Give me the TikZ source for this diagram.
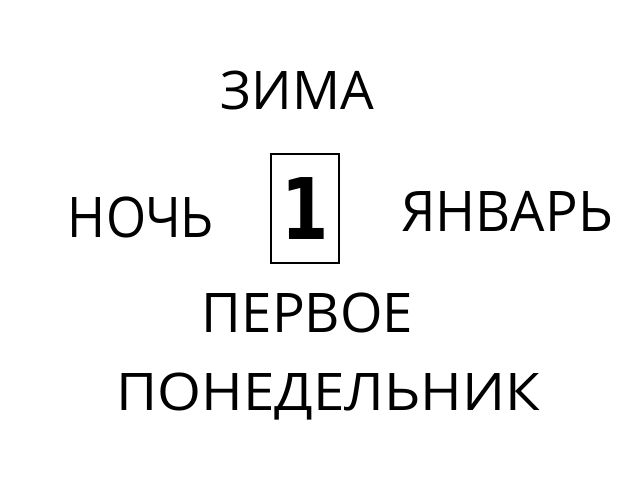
\documentclass[tikz,border=0pt]{standalone}
\usepackage{graphicx}
\usepackage{fontspec}
\setmainfont{Open Sans}
\newfontfamily\digitfont{DejaVu Sans}
\begin{document}
\begin{tikzpicture}[x=1pt,y=1pt,
    word/.style={anchor=base,inner sep=0pt,font=\fontsize{#1}{#1}\selectfont}]
      \useasboundingbox (0,0) rectangle (640,480);
      \node [word=53.2] (zima) at (297.5,370) {ЗИМА};
      \node [word=56] (noch) at (141,243) {\scalebox{0.92}[1]{НОЧЬ}};
      \node [word=56] (yanvar) at (507,248) {\scalebox{0.97}[1]{ЯНВАРЬ}};
      \node [draw,line width=1.2pt,minimum width=68,minimum height=109,inner sep=0pt,
             text depth=0pt,font=\digitfont\bfseries\fontsize{85}{85}\selectfont] (one) at (305,271.5) {\scalebox{0.8}[1]{1}};
      \node [word=54.6] (pervoe) at (307.5,148) {ПЕРВОЕ};
      \node [word=51.8] (ponedelnik) at (328,70) {\scalebox{1.09}[1]{ПОНЕДЕЛЬНИК}};
\end{tikzpicture}
\end{document}
